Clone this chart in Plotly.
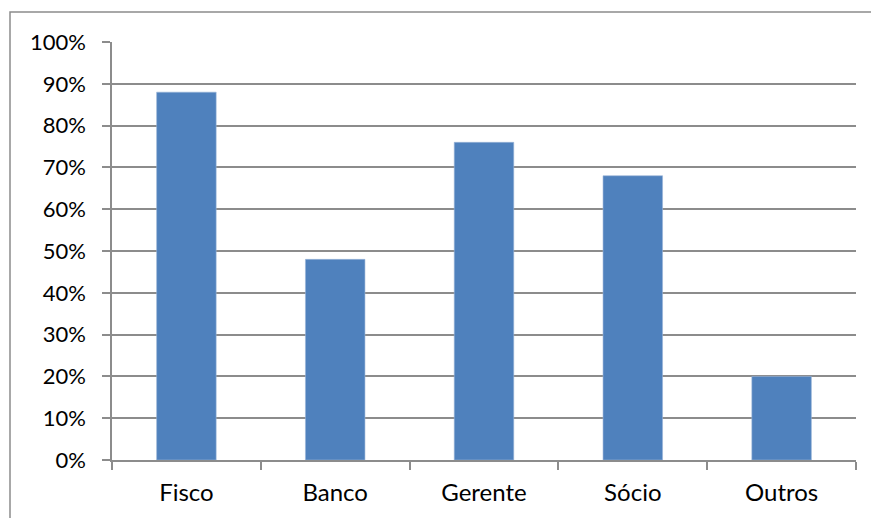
import plotly.graph_objects as go

categories = ["Fisco", "Banco", "Gerente", "Sócio", "Outros"]
shares = [0.88, 0.48, 0.76, 0.68, 0.20]
y_ticks = [i / 10 for i in range(11)]
y_tick_labels = [f"{i * 10}%" for i in range(11)]

GRID = "#8c8c8c"
BAR = "#4f81bd"
FAMILY = "Lato, 'Open Sans', sans-serif"
X_FONT = dict(family=FAMILY, size=24, color="#000000")
Y_FONT = dict(family=FAMILY, size=22, color="#000000")

W, H = 871, 518
L, R, T, B = 112, 15, 42, 58
pw, ph = W - L - R, H - T - B

fig = go.Figure(
    go.Bar(
        x=categories,
        y=shares,
        marker=dict(color=BAR, line=dict(color="#9bb5d8", width=0.6)),
    )
)

fig.update_layout(
    width=W,
    height=H,
    margin=dict(l=L, r=R, t=T, b=B),
    paper_bgcolor="white",
    plot_bgcolor="white",
    bargap=0.6,
    showlegend=False,
    font=X_FONT,
)

fig.update_xaxes(
    type="category",
    showgrid=False,
    showline=True,
    linecolor=GRID,
    linewidth=1.5,
    ticks="outside",
    tickson="boundaries",
    ticklen=8,
    tickcolor=GRID,
    tickwidth=1.5,
    ticklabelstandoff=10,
    tickfont=X_FONT,
)

fig.update_yaxes(
    range=[0, 1],
    tickvals=y_ticks,
    ticktext=y_tick_labels,
    showgrid=True,
    gridcolor=GRID,
    gridwidth=1.5,
    showline=True,
    linecolor=GRID,
    linewidth=1.5,
    ticks="outside",
    ticklen=8,
    tickcolor=GRID,
    tickwidth=1.5,
    ticklabelstandoff=12,
    zeroline=False,
    tickfont=Y_FONT,
)

# chart-area frame, extending past the right and bottom page edges
fig.add_shape(
    type="rect",
    xref="paper",
    yref="paper",
    x0=(10 - L) / pw,
    x1=(W + 20 - L) / pw,
    y0=-(H + 20 - (T + ph)) / ph,
    y1=1 + (T - 12) / ph,
    line=dict(color="#8c8c8c", width=1.5),
    layer="below",
)

fig.write_html("out.html")
